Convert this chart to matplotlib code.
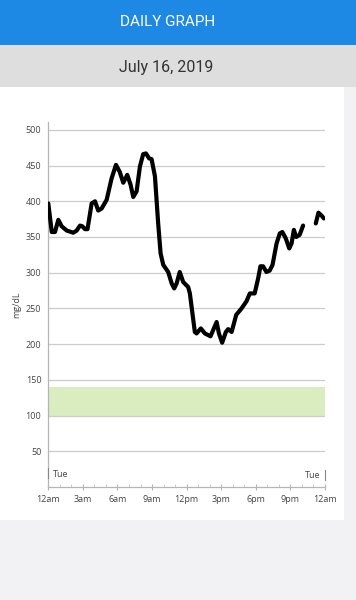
import numpy as np
import matplotlib
matplotlib.use("Agg")
import matplotlib.pyplot as plt
from matplotlib.patches import Rectangle

# ---- data ----
title = "DAILY GRAPH"
date_label = "July 16, 2019"
y_label = "mg/dL"
day_label = "Tue"
hours = [0.0, 0.3, 0.58, 0.87, 1.16, 1.6, 2.17, 2.46, 2.75, 2.95, 3.18, 3.4, 3.76, 4.05,
         4.33, 4.63, 5.06, 5.49, 5.87, 6.2, 6.5, 6.85, 7.14, 7.37, 7.66, 7.95, 8.23, 8.47,
         8.75, 8.96, 9.25, 9.53, 9.74, 9.97, 10.4, 10.7, 10.92, 11.13, 11.4, 11.7, 12.13,
         12.28, 12.71, 12.86, 13.23, 13.58, 14.07, 14.6, 14.8, 15.08, 15.4, 15.6, 15.9,
         16.3, 16.76, 17.19, 17.48, 17.9, 18.2, 18.4, 18.63, 18.92, 19.2, 19.45, 19.8,
         20.08, 20.3, 20.6, 20.9, 21.1, 21.3, 21.5, 21.8, 22.1, 22.6, 23.2, 23.43, 23.7, 23.9]
glucose = [397, 357, 357, 374, 365, 359, 356, 359, 366, 365, 361, 361, 397, 400,
           387, 390, 402, 432, 451, 441, 426, 437, 423, 406, 414, 449, 466, 467,
           460, 459, 435, 369, 327, 311, 301, 285, 278, 285, 301, 287, 280,
           271, 217, 215, 222, 215, 211, 231, 215, 202, 217, 221, 217,
           241, 250, 260, 271, 271, 292, 309, 309, 301, 303, 311, 341,
           355, 357, 348, 334, 341, 360, 350, 353, 366, np.nan, 369, 384, 380, 376]
target_low = 100
target_high = 140
y_ticks = [50, 100, 150, 200, 250, 300, 350, 400, 450, 500]
x_ticks = [0, 3, 6, 9, 12, 15, 18, 21, 24]
x_tick_labels = ["12am", "3am", "6am", "9am", "12pm", "3pm", "6pm", "9pm", "12am"]

W, H = 356, 600
fig = plt.figure(figsize=(W / 100, H / 100), dpi=100)
fig.patch.set_facecolor("#f2f2f4")

def px_rect(x0, y0, x1, y1, color):
    fig.patches.append(Rectangle((x0 / W, 1 - y1 / H), (x1 - x0) / W, (y1 - y0) / H,
                                 transform=fig.transFigure, facecolor=color,
                                 edgecolor="none", zorder=-10))

px_rect(0, 0, W, 45, "#1e88e5")
px_rect(0, 45, W, 87, "#dedede")
px_rect(0, 87, 344, 520, "#ffffff")

fig.text(168 / W, 1 - 22.5 / H, title, color="white", fontsize=11, family="Roboto",
         ha="center", va="center")
fig.text(166 / W, 1 - 67.5 / H, date_label, color="#333333", fontsize=11.5, family="Roboto",
         ha="center", va="center")

ax_l, ax_r, ax_t, ax_b = 48.3, 325, 122, 487
ax = fig.add_axes([ax_l / W, 1 - ax_b / H, (ax_r - ax_l) / W, (ax_b - ax_t) / H])
ax.set_zorder(5)
ax.set_facecolor("none")
ax.set_xlim(0, 24)
ax.set_ylim(0, 511)

ax.axhspan(target_low, target_high, color="#d9edc1", zorder=1, lw=0)
for v in y_ticks:
    ax.axhline(v, color="#cccccc", lw=0.9, zorder=2)

ax.plot(hours, glucose, color="black", lw=3.0, solid_joinstyle="round",
        solid_capstyle="round", zorder=3)

for s in ["top", "right"]:
    ax.spines[s].set_visible(False)
for s in ["left", "bottom"]:
    ax.spines[s].set_color("#b5b5b5")
    ax.spines[s].set_linewidth(0.9)

ax.set_yticks(y_ticks)
ax.set_yticklabels([str(v) for v in y_ticks])
ax.set_xticks(x_ticks)
ax.set_xticklabels(x_tick_labels)
ax.set_xticks(np.arange(0, 25, 1), minor=True)
ax.tick_params(axis="y", length=0, pad=5, labelsize=6.5, labelcolor="#444444")
ax.tick_params(axis="x", which="major", direction="inout", length=5, width=0.8,
               color="#b5b5b5", pad=3, labelsize=6.5, labelcolor="#444444")
ax.tick_params(axis="x", which="minor", direction="in", length=2, width=0.6, color="#c5c5c5")
for lab in ax.get_xticklabels() + ax.get_yticklabels():
    lab.set_family("Open Sans")

ax.set_ylabel(y_label, fontsize=6.5, color="#444444", family="Open Sans", labelpad=3)

# day markers
ax.plot([0, 0], [13, 27], color="#888888", lw=0.8, zorder=4, clip_on=False)
ax.text(0.4, 18, day_label, fontsize=6.5, color="#444444", family="Open Sans",
        ha="left", va="center")
ax.plot([24, 24], [10, 24], color="#888888", lw=0.8, zorder=4, clip_on=False)
ax.text(23.6, 16, day_label, fontsize=6.5, color="#444444", family="Open Sans",
        ha="right", va="center")

fig.savefig("out.png", dpi=100, facecolor=fig.get_facecolor())
